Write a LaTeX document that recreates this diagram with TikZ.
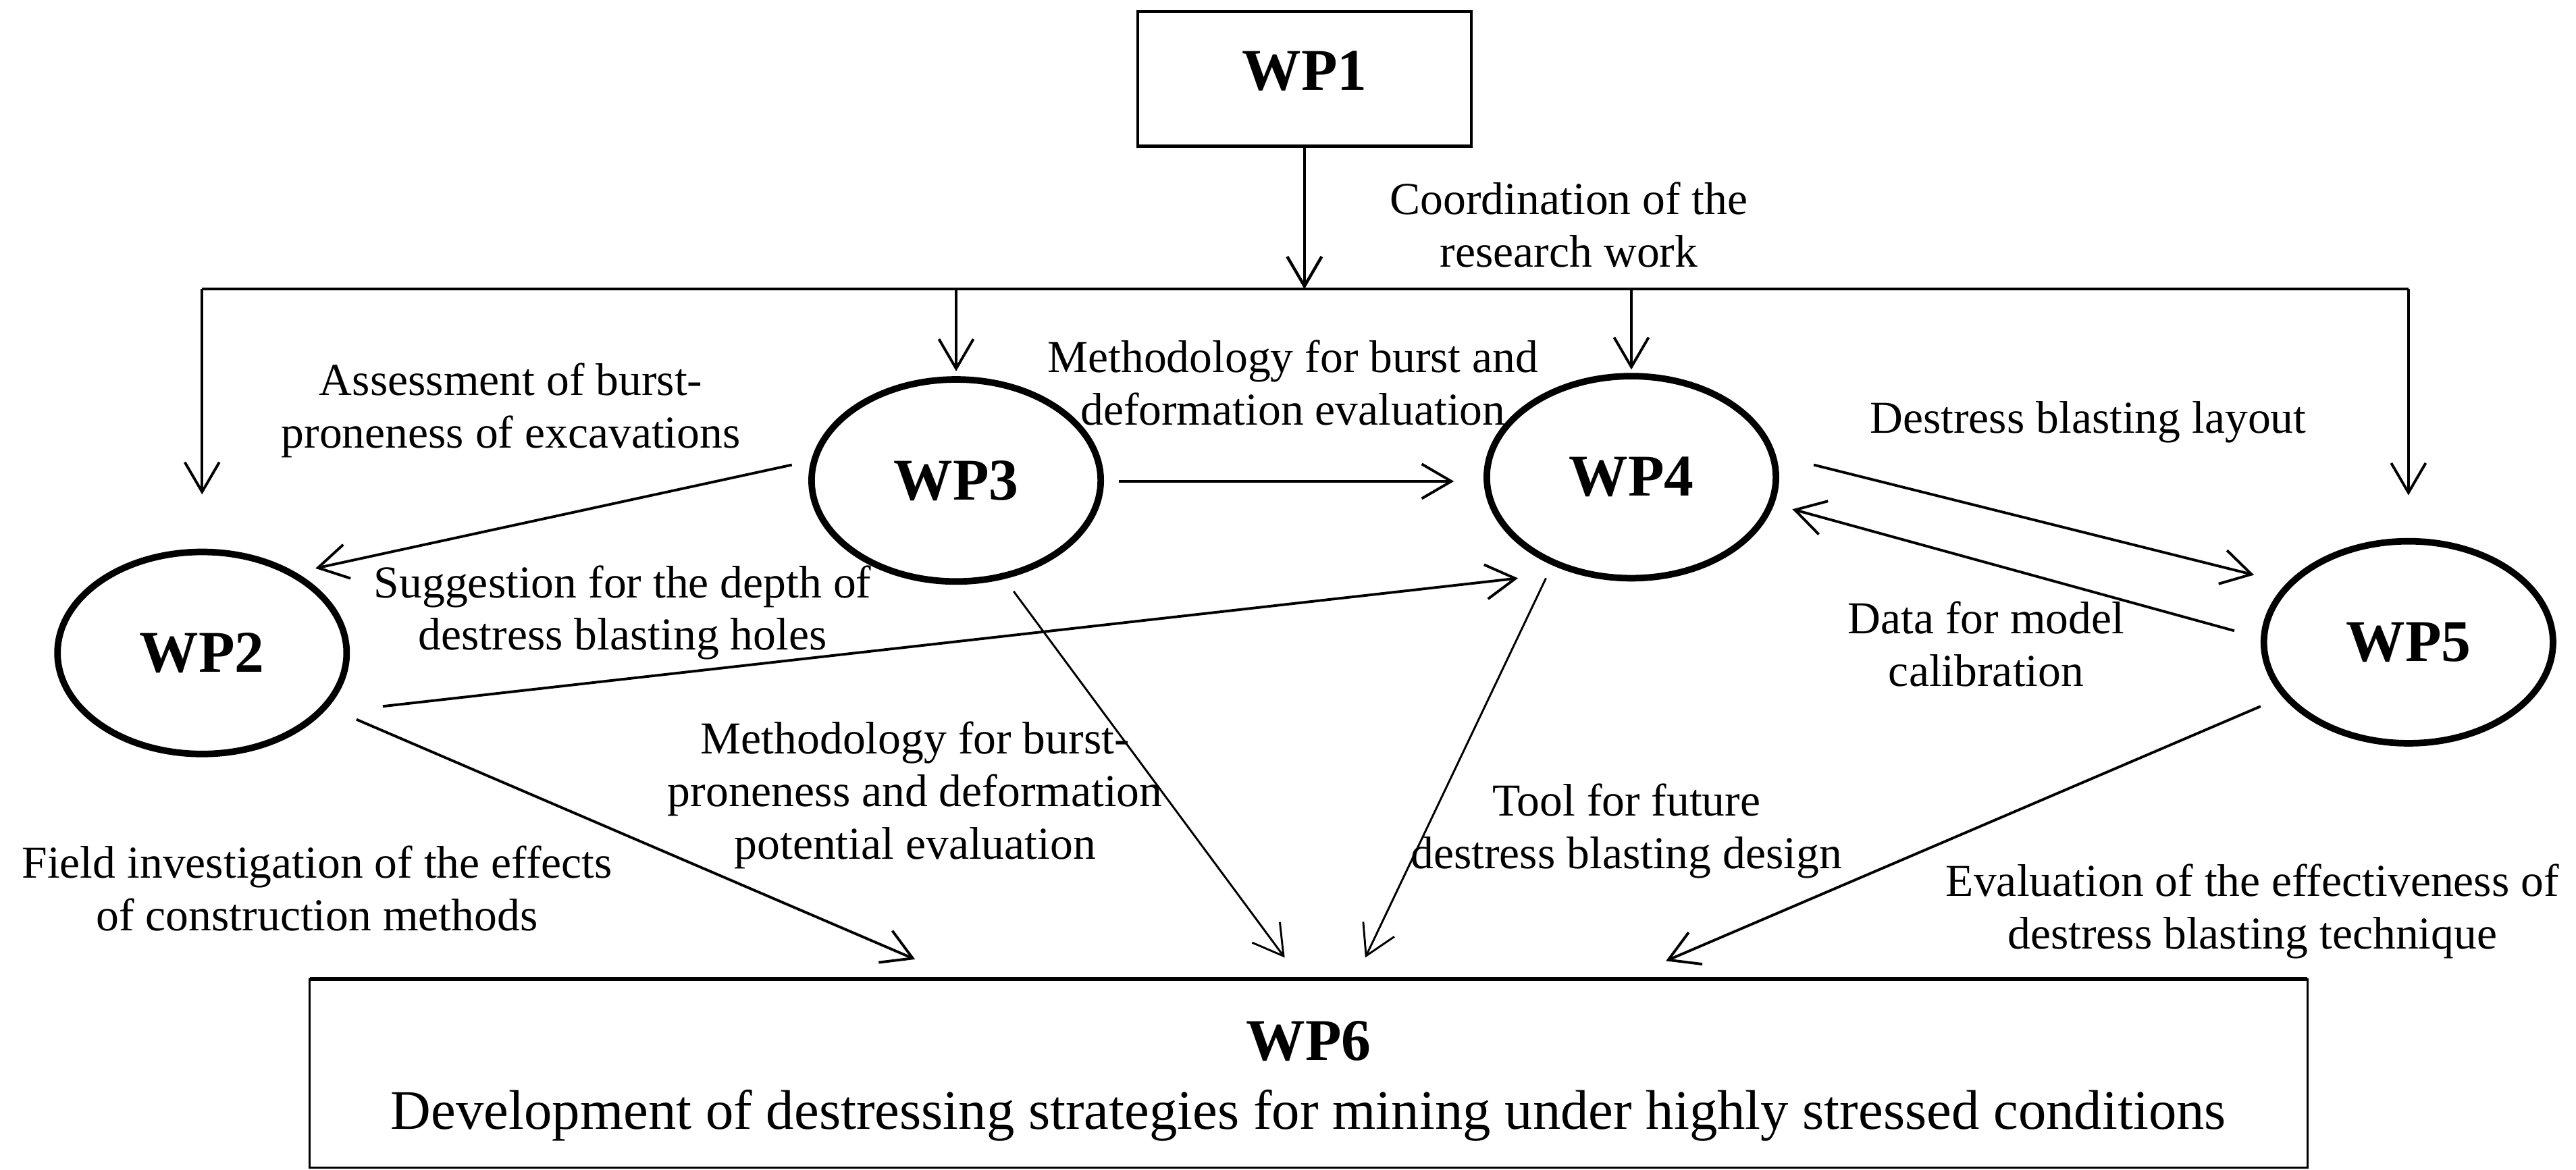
\documentclass[tikz,border=0pt]{standalone}
\usepackage{fontspec}
\setmainfont{Liberation Serif}
\usetikzlibrary{shapes.geometric,arrows.meta,calc}
\begin{document}
\begin{tikzpicture}[x=1pt,y=-1pt,
  wpell/.style={ellipse, draw, line width=4pt, minimum width=176pt, minimum height=123pt,
    inner sep=0pt, outer sep=0pt, font=\fontsize{36}{40}\selectfont\bfseries},
  wpbox/.style={rectangle, draw, inner sep=0pt, outer sep=0pt, align=center},
  lbl/.style={align=center, inner sep=0pt, font=\fontsize{27.8}{32}\selectfont},
  conn/.style={draw, line width=1.6pt, -{Straight Barb[length=18pt,width=21pt]}},
  thinconn/.style={conn, line width=1.2pt},
]
\useasboundingbox (0,0) rectangle (1568,712);

% main nodes
\node[wpbox, line width=1.8pt, minimum width=203pt, minimum height=82pt,
  font=\fontsize{36}{40}\selectfont\bfseries] (wp1) at (794,48) {\rule[-10pt]{0pt}{10pt}WP1};
\node[wpell] (wp2) at (123,397.5) {WP2};
\node[wpell] (wp3) at (582,292.5) {WP3};
\node[wpell] (wp4) at (993,290.5) {WP4};
\node[wpell] (wp5) at (1466,391) {WP5};
\node[wpbox, line width=1.2pt, minimum width=1216pt, minimum height=115pt,
  font=\fontsize{34}{42}\selectfont] (wp6) at (796.5,653.5)
  {{\fontsize{36}{42}\selectfont\bfseries\rule{0pt}{33pt}WP6}\\Development of destressing strategies for mining under highly stressed conditions};
\draw[line width=2.6pt] (wp6.north west) -- (wp6.north east);

% labels
\node[lbl] (lcoord) at (955,137) {Coordination of the\\research work};
\node[lbl] (lassess) at (311,250) {Assessment of burst-\\proneness of excavations};
\node[lbl] (lsugg) at (379,373) {Suggestion for the depth of\\destress blasting holes};
\node[lbl] (lmeth) at (787,233) {Methodology for burst and\\deformation evaluation};
\node[lbl] (llayout) at (1271,257) {Destress blasting layout};
\node[lbl] (ldata) at (1209,392) {Data for model\\calibration};
\node[lbl] (lprone) at (557,484) {Methodology for burst-\\proneness and deformation\\potential evaluation};
\node[lbl] (lfield) at (193,541) {Field investigation of the effects\\of construction methods};
\node[lbl] (ltool) at (990,506) {Tool for future\\destress blasting design};
\node[lbl] (leval) at (1371,555) {Evaluation of the effectiveness of\\destress blasting technique};

% helper coordinates
\coordinate (j) at (794,176);
\coordinate (hl) at (wp2.north |- j);
\coordinate (hr) at (wp5.north |- j);
\coordinate (t2) at (557,584);
\coordinate (t3) at (782,583);
\coordinate (t4) at (831,583);
\coordinate (t5) at (1014,585);

% coordination tree
\draw[conn, line width=1.8pt] (wp1.south) -- (j);
\draw[line width=1.8pt] (hl) -- (hr);
\draw[conn, shorten >=35pt] (hl) -- (wp2.north);
\draw[conn, shorten >=5pt] (wp3.north |- j) -- (wp3.north);
\draw[conn, shorten >=4pt] (wp4.north |- j) -- (wp4.north);
\draw[conn, shorten >=28pt] (hr) -- (wp5.north);

% connectors
\draw[conn] ($(wp3)+(-100,-9.5)$) -- ($(wp2)+(69,-51.5)$);
\draw[conn] ($(wp2)+(110,32.5)$) -- ($(wp4)+(-69,61.5)$);
\draw[conn] ($(wp2)+(94,40.5)$) -- (t2);
\draw[thinconn] ($(wp3)+(35,67.5)$) -- (t3);
\draw[thinconn] ($(wp4)+(-52,61.5)$) -- (t4);
\draw[conn] ($(wp5)+(-90,39)$) -- (t5);
\draw[conn] ($(wp3)+(99,0.5)$) -- ($(wp4)+(-108,2.5)$);
\draw[conn] ($(wp4)+(111,-7.5)$) -- ($(wp5)+(-94,-41)$);
\draw[conn] ($(wp5)+(-106,-7)$) -- ($(wp4)+(98,19.5)$);
\end{tikzpicture}
\end{document}
